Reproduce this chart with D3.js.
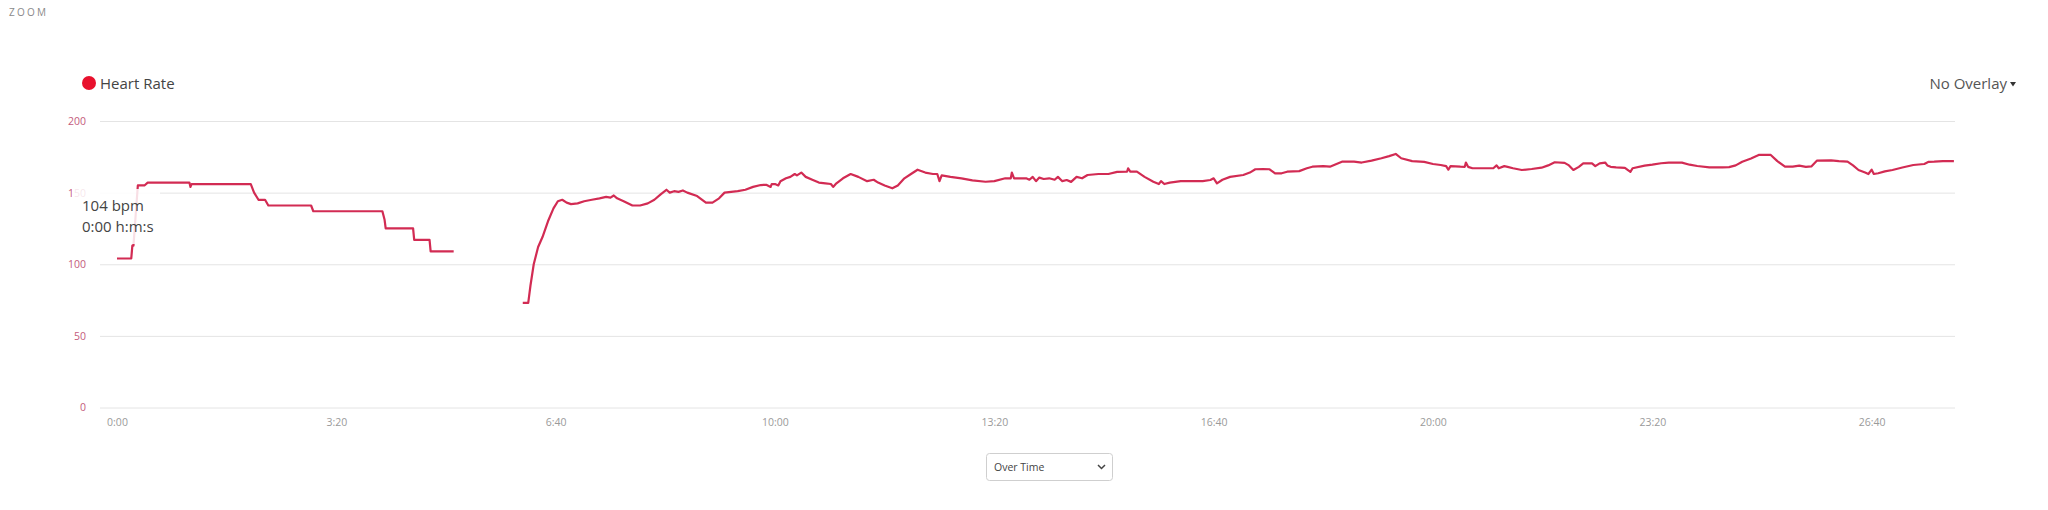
<!DOCTYPE html>
<html>
<head>
<meta charset="utf-8">
<script src="https://cdn.jsdelivr.net/npm/d3@7"></script>
<style>
  html, body { margin: 0; padding: 0; background: #fff; }
  svg { display: block; font-family: "Open Sans", "Noto Sans", sans-serif; }
</style>
</head>
<body>
<svg id="chart" width="2048" height="510"></svg>
<script>
// ---- data ----
const seriesName = "Heart Rate";
// time in seconds, heart rate in bpm (null = gap in recording)
const times = [
  0,13,14,15,19,25,28,66,67,68,122,125,129,135,138,177,179,242,244,245,270,271,285,286,307,
  340,
  370,375,377,380,384,388,393,398,402,406,410,414,420,426,433,440,446,450,453,456,462,470,477,484,490,496,501,504,508,512,516,520,529,537,543,549,554,560,566,573,580,587,592,596,597,600,603,605,610,614,618,620,624,628,634,640,646,651,653,656,662,669,676,684,690,694,700,707,712,718,724,730,737,744,748,750,752,760,770,780,792,800,810,815,816,818,825,829,832,835,838,841,845,850,855,858,862,866,870,875,880,885,895,904,912,921,922,924,930,937,945,950,952,955,960,970,979,990,997,1000,1003,1008,1015,1027,1033,1038,1045,1051,1056,1062,1067,1078,1085,1090,1100,1106,
  1112,1117,1128,1135,1144,1153,1160,1166,1171,1181,1192,1200,1207,1212,1214,1216,1225,1229,1230,1232,1236,1245,1255,1258,1260,1265,1268,1273,1281,1290,1299,1305,1311,1320,1324,1328,1333,1337,1345,1348,1352,1357,1359,1362,1367,1375,1380,1382,1393,1400,1408,1415,1427,1434,1441,1452,1464,1470,1476,1482,1490,1497,1508,1514,1521,1528,1534,1540,1545,1550,1563,1570,1578,1583,1588,1594,1597,1600,1602,1606,1612,1619,1628,1638,1648,1652,1657,1665,1675
];
const heartRate = [
  104,104,113,113,155,155,157,157,154,156,156,150,145,145,141,141,137,137,131,125,125,117,117,109,109,
  null,
  73,73,85,100,112,119,130,139,144,145,143,142,142.5,144,145,146,147,146.5,148,146,144,141,141,142.5,145,149,152,150,151,150.5,151.5,150,147.6,143,143,146,150,150.5,151,152,154,155.3,155.5,154,156,156,155,158,160,161,163,162,164,161,159,157,156.5,156,154,156.5,160,163,161,158,159,157,155,153,155,160,163,166,164,163,163,158,162,161,160,158.5,157.6,158,160,160,164,160,160,160,159,161,158,160.5,159.5,160,159,161,158,158.8,157.5,161,160,162.3,163,163,164.5,164.6,167,164.6,164.6,161,157.6,156,158,156,157,158,158.1,158,158.8,160,156.5,159,161,162.3,164,166.3,166.5,166.3,163.5,163.5,164.6,165,167,168.1,168.5,168.1,
  170,171.6,171.6,171,172.3,174,175.5,177,174,172,171.5,170,169.3,168.5,166,168.5,168.1,168,171,168,167,167,167,169,167,168.5,168,167,165.8,166.5,167.4,169,171.2,170.8,169,165.8,168,170.4,170.4,168.5,170.4,171,169,168,167.6,167.3,164.5,167,168.8,169.5,170.5,170.9,170.9,169.5,168.6,167.6,167.6,167.8,169,171.6,173.8,176.3,176.3,172,168.1,168.2,168.8,168,168.3,172.3,172.5,172,171.6,169,165.8,164,163,166,163,163.5,164.8,165.8,167.5,169.3,170,171.5,171.6,172,172
];
const yTicks = [0, 50, 100, 150, 200];
const xTicks = [0, 200, 400, 600, 800, 1000, 1200, 1400, 1600];
const xTickLabels = ["0:00", "3:20", "6:40", "10:00", "13:20", "16:40", "20:00", "23:20", "26:40"];
const tooltipLines = ["104 bpm", "0:00 h:m:s"];
const overlayLabel = "No Overlay";
const modeLabel = "Over Time";

// ---- layout ----
const svg = d3.select("#chart");
const gridLeft = 100, gridRight = 1955;
const x = d3.scaleLinear().domain([0, 1676]).range([117, 1955]);
const y = d3.scaleLinear().domain([0, 200]).range([407.5, 121]);
const lineColor = "#d22b53";

// ZOOM label
svg.append("text").attr("x", 9).attr("y", 16)
  .attr("font-size", 10).attr("letter-spacing", 2.2).attr("fill", "#8a8a8a")
  .text("ZOOM");

// legend
svg.append("circle").attr("cx", 89).attr("cy", 83).attr("r", 7).attr("fill", "#e8112d");
svg.append("text").attr("x", 100).attr("y", 88.5).attr("font-size", 15)
  .attr("fill", "#444").text(seriesName);

// overlay dropdown label
svg.append("text").attr("x", 2007).attr("y", 88.5).attr("font-size", 15)
  .attr("text-anchor", "end").attr("fill", "#555").text(overlayLabel);
svg.append("path").attr("d", "M2010,82 L2016,82 L2013,86.5 Z").attr("fill", "#333");

// gridlines
const grid = svg.append("g").attr("transform", `translate(${gridLeft},0)`)
  .call(d3.axisLeft(y).tickValues(yTicks).tickSize(-(gridRight - gridLeft)).tickFormat(""));
grid.select(".domain").remove();
grid.selectAll(".tick line").attr("stroke", "#e4e4e4").attr("stroke-width", 1);

// y labels
const yAx = svg.append("g").attr("transform", `translate(86,0)`)
  .call(d3.axisLeft(y).tickValues(yTicks).tickSize(0).tickPadding(0));
yAx.select(".domain").remove();
yAx.selectAll("text").attr("font-family", "'Open Sans', sans-serif")
  .attr("font-size", 10.5).attr("fill", "#c45b7c");

// x labels
const xAx = svg.append("g").attr("transform", `translate(0,${y(0)})`)
  .call(d3.axisBottom(x).tickValues(xTicks).tickSize(0).tickPadding(11)
    .tickFormat((d, i) => xTickLabels[i]));
xAx.select(".domain").remove();
xAx.selectAll("text").attr("font-family", "'Open Sans', sans-serif")
  .attr("font-size", 10.5).attr("fill", "#9a9a9a");

// line
const data = times.map((t, i) => ({ t, v: heartRate[i] }));
const line = d3.line().defined(d => d.v !== null).x(d => x(d.t)).y(d => y(d.v));
svg.append("path").datum(data).attr("d", line)
  .attr("fill", "none").attr("stroke", lineColor).attr("stroke-width", 2.2)
  .attr("stroke-linejoin", "round");

// tooltip
svg.append("rect").attr("x", 72).attr("y", 189).attr("width", 88).attr("height", 55)
  .attr("fill", "#fff").attr("opacity", 0.85);
tooltipLines.forEach((s, i) => {
  svg.append("text").attr("x", 82).attr("y", 211 + i * 21).attr("font-size", 15)
    .attr("fill", "#444").text(s);
});

// Over Time select
const sel = svg.append("g").attr("transform", "translate(986,453)");
sel.append("rect").attr("x", 0.5).attr("y", 0.5).attr("width", 126).attr("height", 27)
  .attr("rx", 3).attr("fill", "#fff").attr("stroke", "#cfcfcf");
sel.append("text").attr("x", 8).attr("y", 18).attr("font-size", 10.5).attr("fill", "#444").text(modeLabel);
sel.append("path").attr("d", "M112,12 L115.5,15.5 L119,12").attr("fill", "none")
  .attr("stroke", "#444").attr("stroke-width", 1.5);
</script>
</body>
</html>
